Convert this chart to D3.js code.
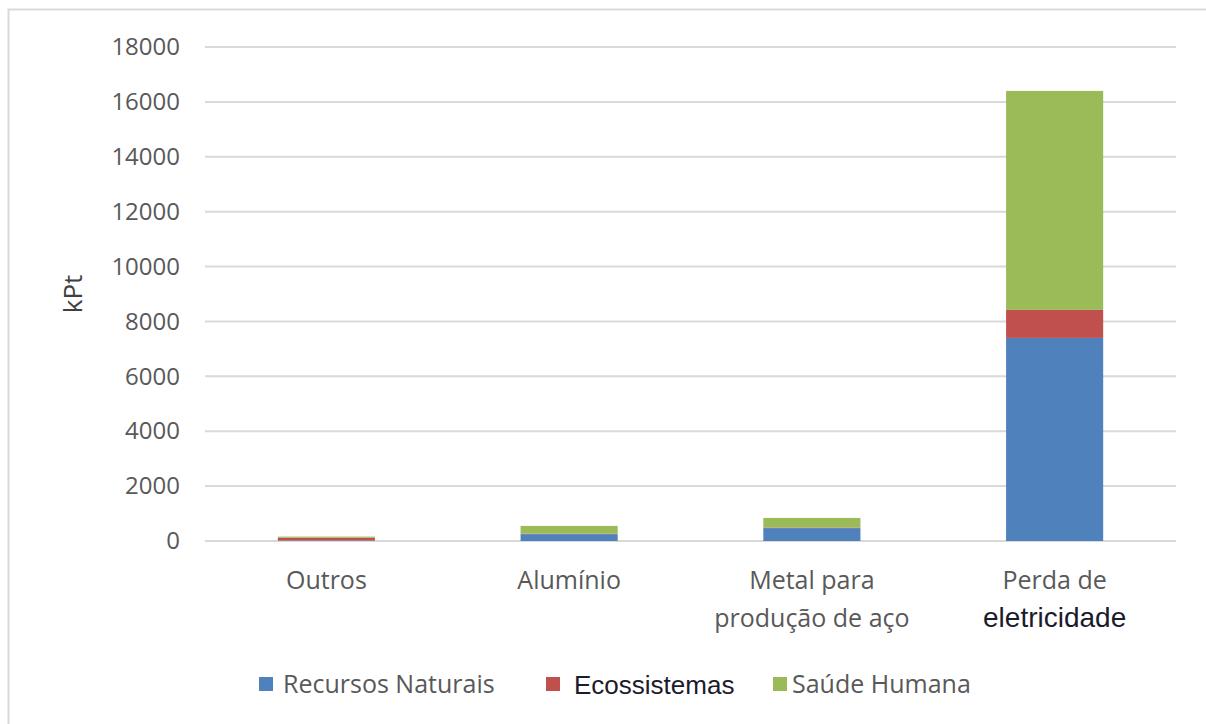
<!DOCTYPE html>
<html>
<head>
<meta charset="utf-8">
<script src="https://cdn.jsdelivr.net/npm/d3@7"></script>
<style>
  body { margin: 0; background: #fff; }
  svg { display: block; }
</style>
</head>
<body>
<svg id="chart" width="1206" height="724"></svg>
<script>
const categories = ['Outros', 'Alumínio', 'Metal para produção de aço', 'Perda de eletricidade'];
const categoryLines = [['Outros'], ['Alumínio'], ['Metal para', 'produção de aço'], ['Perda de', 'eletricidade']];
const seriesNames = ['Recursos Naturais', 'Ecossistemas', 'Saúde Humana'];
const recursosNaturais = [20, 250, 470, 7400];
const ecossistemas = [100, 20, 20, 1020];
const saudeHumana = [40, 280, 350, 7980];
const yTicks = [0, 2000, 4000, 6000, 8000, 10000, 12000, 14000, 16000, 18000];

const colors = ['#4f81bd', '#c0504d', '#9bbb59'];
const gray = '#595959';
const dark = '#1b1b2b';
const font = "'Open Sans', 'Noto Sans', sans-serif";
const arial = "'Liberation Sans', Arial, sans-serif";

const svg = d3.select('#chart');

// chart frame
svg.append('rect')
    .attr('x', 8.5).attr('y', 9.5)
    .attr('width', 1220).attr('height', 740)
    .attr('fill', 'none')
    .attr('stroke', '#d9d9d9')
    .attr('stroke-width', 2);

const plotLeft = 205, plotRight = 1176, plotTop = 47, plotBottom = 541;

const x = d3.scaleBand().domain(categories).range([plotLeft, plotRight]).paddingInner(0.6).paddingOuter(0.3);
const y = d3.scaleLinear().domain([0, 18000]).range([plotBottom, plotTop]);

const table = categories.map((c, i) => ({
  cat: c,
  'Recursos Naturais': recursosNaturais[i],
  'Ecossistemas': ecossistemas[i],
  'Saúde Humana': saudeHumana[i]
}));
const stacked = d3.stack().keys(seriesNames)(table);

// gridlines
svg.append('g')
  .selectAll('line')
  .data(yTicks)
  .join('line')
    .attr('x1', plotLeft).attr('x2', plotRight)
    .attr('y1', d => y(d)).attr('y2', d => y(d))
    .attr('stroke', '#d9d9d9')
    .attr('stroke-width', 2);

// y axis labels
const yAxis = svg.append('g')
    .attr('transform', `translate(${plotLeft - 25},0)`)
    .call(d3.axisLeft(y).tickValues(yTicks).tickFormat(d3.format('d')).tickSize(0).tickPadding(0));
yAxis.select('.domain').remove();
yAxis.selectAll('text')
    .attr('fill', gray)
    .style('font', `24px ${font}`);

// bars
svg.append('g')
  .selectAll('g')
  .data(stacked)
  .join('g')
    .attr('fill', (d, i) => colors[i])
  .selectAll('rect')
  .data(d => d)
  .join('rect')
    .attr('x', d => x(d.data.cat))
    .attr('width', x.bandwidth())
    .attr('y', d => y(d[1]))
    .attr('height', d => y(d[0]) - y(d[1]));

// category labels
const catG = svg.append('g');
categories.forEach((c, i) => {
  const t = catG.append('text')
      .attr('x', x(c) + x.bandwidth() / 2)
      .attr('y', 589)
      .attr('text-anchor', 'middle')
      .style('font', `25px ${font}`)
      .attr('fill', gray);
  categoryLines[i].forEach((line, j) => {
    const ts = t.append('tspan')
        .attr('x', x(c) + x.bandwidth() / 2)
        .attr('dy', j === 0 ? 0 : 38)
        .text(line);
    if (line === 'eletricidade') {
      ts.attr('fill', dark).style('font', `28px ${arial}`);
    }
  });
});

// y title
svg.append('text')
    .attr('transform', 'translate(82,294) rotate(-90)')
    .attr('text-anchor', 'middle')
    .attr('fill', '#404040')
    .style('font', `26px ${font}`)
    .text('kPt');

// legend
const legendX = [259, 546, 773];
const legendTextX = [283, 574, 792];
const legend = svg.append('g');
seriesNames.forEach((s, i) => {
  legend.append('rect')
      .attr('x', legendX[i]).attr('y', 677)
      .attr('width', 14).attr('height', 14)
      .attr('fill', colors[i]);
  const isDark = s === 'Ecossistemas';
  legend.append('text')
      .attr('x', legendTextX[i])
      .attr('y', isDark ? 694 : 693)
      .attr('fill', isDark ? dark : gray)
      .style('font', isDark ? `26px ${arial}` : `25px ${font}`)
      .text(s);
});
</script>
</body>
</html>
